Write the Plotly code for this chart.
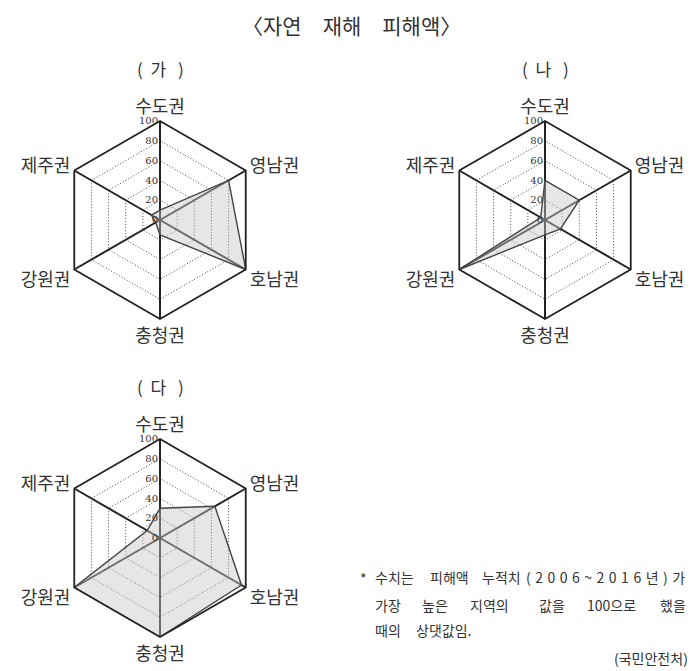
import plotly.graph_objects as go

# the page body keeps its default 8px margin, so every reference pixel
# position is shifted back by OFF and the figure is drawn 8px smaller
W, H = 696, 671
OFF = 8
FW, FH = W - OFF, H - OFF

regions = ["수도권", "영남권", "호남권", "충청권", "강원권", "제주권"]
ga_values = [10, 80, 100, 15, 5, 10]
na_values = [40, 40, 18, 15, 100, 5]
da_values = [30, 64, 95, 100, 100, 15]
radial_ticks = [0, 20, 40, 60, 80, 100]

FONT = "Noto Sans CJK KR"
INK = "#333333"


def px(x):
    return (x - OFF) / FW


def py(y):
    return 1 - (y - OFF) / FH


# (panel label, values, center x, center y) in reference pixels
panels = [
    ("가", ga_values, 160, 220),
    ("나", na_values, 545, 220),
    ("다", da_values, 160, 538),
]
R = 99

fig = go.Figure()
layout_polars = {}
annotations = []


def note(text, x, y, size=14, xanchor="left", family=FONT):
    annotations.append(dict(
        text=text, x=px(x), y=py(y), xref="paper", yref="paper",
        xanchor=xanchor, yanchor="middle", showarrow=False,
        font=dict(family=family, size=size, color=INK),
    ))


for i, (label, vals, cx, cy) in enumerate(panels):
    key = "polar" if i == 0 else f"polar{i + 1}"
    fig.add_trace(go.Scatterpolar(
        r=vals + vals[:1],
        theta=regions + regions[:1],
        mode="lines",
        fill="toself",
        fillcolor="rgba(200,200,200,0.45)",
        line=dict(color="#444444", width=1.4),
        subplot=key,
        showlegend=False,
        hoverinfo="skip",
    ))
    layout_polars[key] = dict(
        domain=dict(x=[px(cx - R), px(cx + R)], y=[py(cy + R), py(cy - R)]),
        gridshape="linear",
        bgcolor="white",
        angularaxis=dict(
            rotation=90, direction="clockwise",
            categoryorder="array", categoryarray=regions,
            showline=True, linecolor="#222222", linewidth=1.8,
            showgrid=True, gridcolor="#222222", gridwidth=1.5,
            ticks="", tickfont=dict(family=FONT, size=18, color=INK),
        ),
        radialaxis=dict(
            range=[0, 100], tickvals=radial_ticks,
            angle=90, side="counterclockwise", tickangle=90,
            showline=False, ticks="",
            showgrid=True, gridcolor="#444444", gridwidth=1, griddash="1px,2px",
            tickfont=dict(family="DejaVu Serif", size=10, color=INK),
        ),
    )
    note(f"(<span style='letter-spacing:4px'> {label} </span>)", cx, cy - 152,
         size=17, xanchor="center")

note("〈자연\u2003재해\u2003피해액〉", 351, 25, size=21, xanchor="center")

# footnote, word by word as in the justified original
note("*", 358, 578)
note("수치는", 373, 577)
note("피해액", 428, 577)
note("누적치", 480, 577)
note("<span style='letter-spacing:4.5px'>(2006~2016년)</span>가", 524, 577)
note("가장", 373, 605)
note("높은", 420, 605)
note("지역의", 468, 605)
note("값을", 537, 605)
note("100으로", 585, 605)
note("했을", 688, 605, xanchor="right")
note("때의", 373, 630)
note("상댓값임.", 414, 630)
note("(국민안전처)", 690, 658, xanchor="right")

fig.update_layout(
    width=FW, height=FH,
    margin=dict(l=0, r=0, t=0, b=0),
    paper_bgcolor="white",
    annotations=annotations,
    **layout_polars,
)

fig.write_html("out.html")
